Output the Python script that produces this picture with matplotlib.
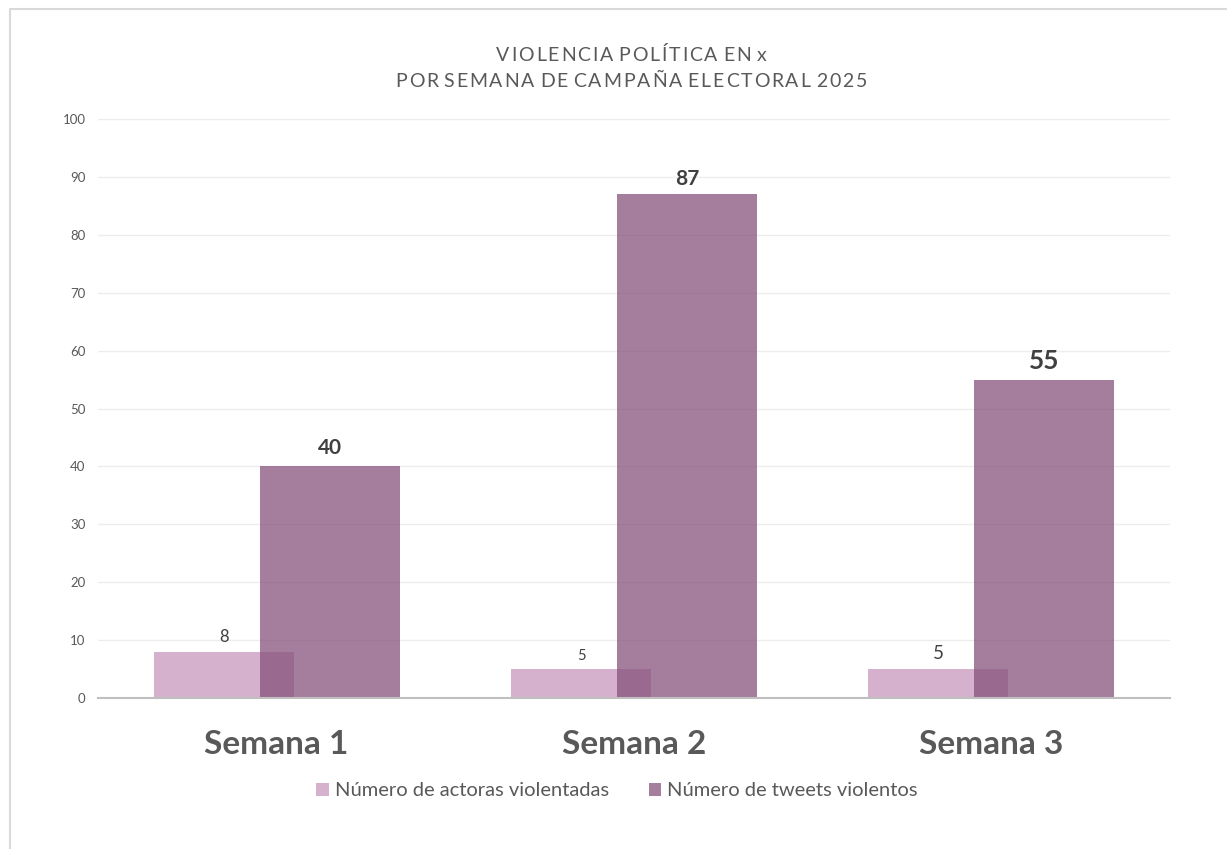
import matplotlib
matplotlib.use("Agg")
import matplotlib.pyplot as plt
from matplotlib.patches import Patch
from matplotlib.lines import Line2D
import numpy as np

categories = ["Semana 1", "Semana 2", "Semana 3"]
actoras = [8, 5, 5]
tweets = [40, 87, 55]
series_names = ["Número de actoras violentadas", "Número de tweets violentos"]
yticks = [0, 10, 20, 30, 40, 50, 60, 70, 80, 90, 100]
title_lines = ["VIOLENCIA POLÍTICA EN x", "POR SEMANA DE CAMPAÑA ELECTORAL 2025"]

plt.rcParams['font.family'] = ['Lato', 'DejaVu Sans']

W, H = 1227, 849
fig = plt.figure(figsize=(W/100, H/100), dpi=100)
ax = fig.add_axes([98/W, 1-698/H, (1170-98)/W, (698-119)/H])

x = np.arange(len(categories))
w = 0.392
off = 0.148
pink = "#D6B1CD"
purple = "#834D78"

b1 = ax.bar(x - off, actoras, width=w, color=pink, zorder=2)
b2 = ax.bar(x + off, tweets, width=w, color=purple, alpha=0.72, zorder=3)

ax.set_xlim(-0.5, 2.5)
ax.set_ylim(0, 100)
ax.set_yticks(yticks)
ax.set_yticklabels([str(v) for v in yticks], fontsize=9.5, color="#595959")
ax.tick_params(axis='y', length=0, pad=9)
ax.set_xticks(x)
ax.set_xticklabels(categories, fontsize=24, fontweight='bold', color="#595959")
ax.tick_params(axis='x', length=0, pad=23)
ax.grid(axis='y', color="#EDEDED", linewidth=1, zorder=0)
ax.set_axisbelow(True)
for s in ['top', 'right', 'left']:
    ax.spines[s].set_visible(False)
ax.spines['bottom'].set_color("#BFBFBF")
ax.spines['bottom'].set_linewidth(1.5)
ax.spines['bottom'].set_zorder(4)

# data labels
pink_sizes = [12, 10.5, 13.5]
pink_pads = [5, 4, 5]
for rect, v, fs, pd in zip(b1, actoras, pink_sizes, pink_pads):
    ax.annotate(str(v), (rect.get_x() + rect.get_width()/2, v), xytext=(0, pd),
                textcoords='offset points', ha='center', va='bottom',
                fontsize=fs, color="#404040", zorder=5)
purple_sizes = [15, 15, 19]
purple_pads = [6, 4, 5]
for rect, v, fs, pd in zip(b2, tweets, purple_sizes, purple_pads):
    ax.annotate(str(v), (rect.get_x() + rect.get_width()/2, v), xytext=(0, pd),
                textcoords='offset points', ha='center', va='bottom',
                fontsize=fs, fontweight='bold', color="#404040", zorder=5)

# title with letter spacing, drawn char by char
fig.canvas.draw()
renderer = fig.canvas.get_renderer()
title_fs = 14
title_weight = 'normal'
baselines = [60.7, 86.7]
target_w2 = 472.0
cx = 631.0

def char_widths(s):
    ws = []
    for ch in s:
        t = fig.text(0, 0, ch if ch != ' ' else 'i', fontsize=title_fs, fontweight=title_weight)
        bb = t.get_window_extent(renderer)
        ws.append(bb.width if ch != ' ' else bb.width * 0.35)
        t.remove()
    return ws

ws2 = char_widths(title_lines[1])
spacing = (target_w2 - sum(ws2)) / (len(title_lines[1]) - 1)
for line, bl in zip(title_lines, baselines):
    ws = char_widths(line)
    total = sum(ws) + spacing * (len(line) - 1)
    xpos = cx - total / 2
    for ch, cw in zip(line, ws):
        if ch != ' ':
            fig.text(xpos / W, 1 - bl / H, ch, ha='left', va='baseline', fontsize=title_fs,
                     fontweight=title_weight, color="#595959")
        xpos += cw + spacing

handles = [Patch(facecolor=pink, edgecolor='none'),
           Patch(facecolor="#A67F9E", edgecolor='none')]
leg = fig.legend(handles, series_names, loc='center', bbox_to_anchor=(617/W, 1-791/H),
                 ncol=2, frameon=False, fontsize=14.5, handlelength=0.6, handleheight=0.6,
                 handletextpad=0.3, columnspacing=2.0)
for t in leg.get_texts():
    t.set_color("#595959")

border = Line2D([10/W, 10/W, 1.0], [0.0, 1-9/H, 1-9/H], transform=fig.transFigure,
                color="#D9D9D9", linewidth=1.5)
fig.add_artist(border)

fig.savefig("out.png", dpi=100, facecolor="white")
